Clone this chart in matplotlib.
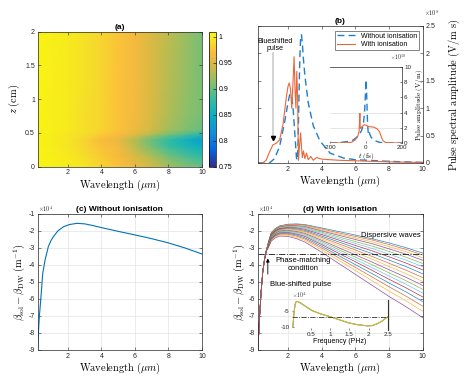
import numpy as np
import matplotlib
matplotlib.use("Agg")
import matplotlib.pyplot as plt
from matplotlib.colors import LinearSegmentedColormap
from matplotlib.ticker import FuncFormatter

plt.rcParams['font.family'] = ['Liberation Sans', 'DejaVu Sans']
plt.rcParams['mathtext.fontset'] = 'cm'
plt.rcParams['axes.unicode_minus'] = False

# ---- (a) normalised map: wavelength x propagation distance ----
lam_a = [0.2, 2, 3, 4, 5, 6, 7, 8, 9, 10]
z_a = [0, 0.15, 0.3, 0.4, 0.48, 0.55, 0.8, 1.2, 2.0]
map_a = [
    [1.005, 1.0, 0.995, 0.985, 0.975, 0.962, 0.945, 0.925, 0.91, 0.9],
    [1.005, 0.998, 0.99, 0.98, 0.968, 0.95, 0.93, 0.905, 0.89, 0.875],
    [1.005, 0.995, 0.985, 0.975, 0.965, 0.935, 0.905, 0.88, 0.865, 0.85],
    [1.005, 0.995, 0.985, 0.97, 0.96, 0.93, 0.9, 0.875, 0.855, 0.83],
    [1.005, 0.995, 0.99, 0.98, 0.97, 0.955, 0.93, 0.905, 0.89, 0.87],
    [1.005, 0.998, 0.99, 0.985, 0.975, 0.962, 0.945, 0.925, 0.91, 0.9],
    [1.005, 0.998, 0.99, 0.985, 0.975, 0.965, 0.948, 0.93, 0.915, 0.905],
    [1.005, 0.998, 0.992, 0.985, 0.975, 0.965, 0.95, 0.932, 0.918, 0.905],
    [1.005, 0.998, 0.992, 0.985, 0.976, 0.966, 0.95, 0.935, 0.92, 0.905],
]
cbar_ticks = [0.75, 0.8, 0.85, 0.9, 0.95, 1.0]

# ---- (b) spectra (x1e8 V/m s) ----
lam_b_blue = [0.2, 0.9, 1.2, 1.5, 1.8, 2.0, 2.1, 2.2, 2.3, 2.4, 2.5, 2.55, 2.6,
              2.65, 2.7, 2.75, 2.8, 2.85, 2.9, 3.0, 3.2, 3.5, 3.9, 4.5, 5.3,
              6, 8, 10]
spec_blue = [0, 0, 0.08, 0.3, 0.75, 1.1, 1.25, 1.25, 1.0, 0.55, 0.1, 0.05, 0.4,
             1.2, 1.9, 2.3, 2.34, 2.2, 1.95, 1.6, 1.1, 0.68, 0.4, 0.18, 0.09,
             0.06, 0.03, 0.01]
lam_b_orange = [0.2, 0.5, 0.7, 0.9, 1.1, 1.3, 1.5, 1.7, 1.9, 2.0, 2.07, 2.15,
                2.22, 2.3, 2.36, 2.42, 2.47, 2.52, 2.57, 2.62, 2.68, 2.75, 2.8,
                2.85, 2.92, 3.0, 3.1, 3.2, 3.35, 3.5, 3.7, 4.0, 5, 6, 8, 10]
spec_orange = [0, 0, 0.05, 0.2, 0.33, 0.36, 0.42, 0.7, 1.2, 1.4, 1.46, 1.35,
               1.0, 1.5, 1.94, 1.3, 1.0, 1.67, 1.2, 0.05, 0.3, 0.55, 0.3,
               0.1, 0.22, 0.08, 0.18, 0.06, 0.12, 0.05, 0.1, 0.07, 0.05, 0.04,
               0.02, 0.01]

# inset (b): pulse amplitude (x1e10 V/m) vs time
t_blue = [-200, -150, -100, -70, -45, -25, -15, -8, -3, 0, 3, 6, 9, 13, 18, 22,
          30, 50, 75, 100, 200]
amp_blue = [0, 0.05, 0.2, 0.4, 0.9, 1.6, 2.4, 4.0, 6.5, 8.3, 7.0, 4.5, 2.5, 1.2,
            1.5, 1.1, 0.7, 0.3, 0.08, 0.02, 0]
t_orange = [-200, -150, -100, -80, -60, -45, -38, -34, -32, -30, -20, -10, 0, 10,
            20, 40, 60, 75, 85, 95, 110, 150, 200]
amp_orange = [0, 0.02, 0.05, 0.1, 0.4, 0.9, 1.6, 3.9, 2.0, 1.9, 2.2, 2.4, 2.35,
              2.2, 2.15, 2.1, 1.9, 1.5, 0.8, 0.3, 0.05, 0.02, 0]

# ---- (c) phase mismatch without ionisation (x1e4 1/m) ----
lam_c = [0.2, 0.24, 0.3, 0.38, 0.5, 0.64, 0.84, 1.0, 1.14, 1.4, 1.74, 2.1, 2.54,
         3.0, 3.5, 4, 5, 6, 7, 8, 9, 10]
dbeta_c = [-9.0, -8.0, -7.0, -6.06, -4.5, -3.7, -2.9, -2.55, -2.33, -2.0, -1.75,
           -1.62, -1.55, -1.58, -1.68, -1.8, -2.02, -2.23, -2.45, -2.7, -3.0,
           -3.35]

# ---- (d) with ionisation: common short-wavelength rise + one row per z ----
lam_d_short = [0.2, 0.3, 0.4, 0.5, 0.6, 0.7]
dbeta_d_short = [-9.3, -7.2, -5.6, -4.4, -3.7, -3.2]
lam_d_long = [0.85, 1.0, 1.25, 1.5, 2.0, 2.5, 3, 4, 5, 6, 7, 8, 9, 10]
dbeta_d_long = [
    [-2.60, -2.10, -1.85, -1.70, -1.60, -1.58, -1.62, -1.82, -2.03, -2.24, -2.46, -2.70, -2.98, -3.30],
    [-2.61, -2.12, -1.87, -1.72, -1.62, -1.61, -1.66, -1.88, -2.11, -2.32, -2.53, -2.80, -3.08, -3.41],
    [-2.62, -2.14, -1.89, -1.74, -1.65, -1.65, -1.70, -1.95, -2.18, -2.41, -2.64, -2.92, -3.22, -3.57],
    [-2.64, -2.16, -1.91, -1.77, -1.68, -1.69, -1.74, -2.00, -2.25, -2.50, -2.75, -3.05, -3.36, -3.72],
    [-2.66, -2.18, -1.94, -1.80, -1.72, -1.74, -1.79, -2.07, -2.35, -2.62, -2.89, -3.20, -3.54, -3.91],
    [-2.67, -2.21, -1.97, -1.83, -1.75, -1.78, -1.84, -2.14, -2.44, -2.73, -3.03, -3.36, -3.71, -4.10],
    [-2.69, -2.23, -1.99, -1.86, -1.79, -1.82, -1.90, -2.21, -2.53, -2.85, -3.17, -3.52, -3.88, -4.29],
    [-2.71, -2.26, -2.03, -1.89, -1.83, -1.87, -1.96, -2.30, -2.64, -2.99, -3.33, -3.71, -4.09, -4.52],
    [-2.73, -2.29, -2.06, -1.93, -1.87, -1.92, -2.02, -2.38, -2.75, -3.12, -3.50, -3.90, -4.30, -4.74],
    [-2.75, -2.32, -2.09, -1.96, -1.92, -1.97, -2.08, -2.47, -2.86, -3.26, -3.66, -4.09, -4.51, -4.97],
    [-2.78, -2.35, -2.13, -2.00, -1.96, -2.03, -2.14, -2.55, -2.98, -3.40, -3.83, -4.28, -4.72, -5.20],
    [-2.80, -2.38, -2.16, -2.04, -2.00, -2.08, -2.20, -2.63, -3.09, -3.54, -3.99, -4.46, -4.92, -5.43],
    [-2.82, -2.41, -2.19, -2.07, -2.05, -2.13, -2.26, -2.72, -3.20, -3.68, -4.16, -4.65, -5.13, -5.66],
    [-2.84, -2.44, -2.22, -2.11, -2.09, -2.18, -2.32, -2.80, -3.31, -3.81, -4.32, -4.84, -5.34, -5.88],
    [-2.86, -2.48, -2.26, -2.15, -2.14, -2.24, -2.40, -2.90, -3.44, -3.98, -4.51, -5.06, -5.58, -6.15],
    [-2.89, -2.51, -2.30, -2.19, -2.19, -2.30, -2.47, -3.00, -3.57, -4.14, -4.71, -5.28, -5.83, -6.42],
    [-2.92, -2.55, -2.35, -2.24, -2.25, -2.37, -2.55, -3.11, -3.72, -4.32, -4.93, -5.54, -6.10, -6.72],
    [-2.95, -2.60, -2.40, -2.30, -2.32, -2.45, -2.65, -3.25, -3.90, -4.55, -5.20, -5.85, -6.45, -7.10],
]
phase_match = -3.35

# inset (d): mismatch vs frequency
freq_d = [0.03, 0.06, 0.09, 0.12, 0.16, 0.22, 0.3, 0.52, 0.75, 1.0, 1.25, 1.47,
          1.7, 1.98, 2.1, 2.23, 2.35, 2.5]
dbeta_freq = [-10.0, -5.5, -2.8, -1.95, -2.0, -2.4, -3.0, -4.8, -5.9, -6.8, -7.8,
              -8.7, -9.3, -9.7, -9.6, -9.0, -8.2, -6.8]
inset_match = -7.0

matlab_colors = ['#0072BD', '#D95319', '#EDB120', '#7E2F8E', '#77AC30',
                 '#4DBEEE', '#A2142F']

parula = LinearSegmentedColormap.from_list('parula', [
    (0.00, (0.21, 0.17, 0.53)), (0.12, (0.02, 0.39, 0.88)),
    (0.25, (0.07, 0.56, 0.84)), (0.37, (0.03, 0.68, 0.77)),
    (0.50, (0.21, 0.74, 0.63)), (0.62, (0.53, 0.75, 0.42)),
    (0.75, (0.82, 0.73, 0.27)), (0.85, (0.99, 0.73, 0.24)),
    (0.93, (0.96, 0.88, 0.16)), (1.00, (0.98, 0.98, 0.05))])

TICK = 5
LAB = 7.5
serif_wl = r'$\mathrm{Wavelength}\ (\mu m)$'
fmt = FuncFormatter(lambda v, _: f'{v:g}')


def style(ax, grid=False):
    ax.tick_params(direction='in', length=2, width=0.4, labelsize=TICK,
                   colors='#262626', pad=2, top=True, right=True)
    for s in ax.spines.values():
        s.set_linewidth(0.5)
        s.set_color('#262626')
    if grid:
        ax.grid(True, color='#e3e3e3', lw=0.5)
        ax.set_axisbelow(True)


fig = plt.figure(figsize=(4.69, 3.89), dpi=100)

# (a)
ax_a = fig.add_axes([0.0804, 0.5715, 0.350, 0.347])
mesh = ax_a.pcolormesh(lam_a, z_a, np.array(map_a), shading='gouraud',
                       cmap=parula, vmin=0.75, vmax=1.01)
ax_a.set_xlim(0.2, 10)
ax_a.set_ylim(0, 2)
ax_a.set_xticks([2, 4, 6, 8, 10])
ax_a.set_yticks([0, 0.5, 1, 1.5, 2])
ax_a.xaxis.set_major_formatter(fmt)
ax_a.yaxis.set_major_formatter(fmt)
style(ax_a)
ax_a.set_xlabel(serif_wl, fontsize=LAB, labelpad=1)
ax_a.set_ylabel(r'$z\ (\mathrm{cm})$', fontsize=LAB, labelpad=2)
ax_a.set_title('(a)', fontsize=6, fontweight='bold', pad=2)
cax = fig.add_axes([0.4456, 0.5715, 0.0143, 0.347])
cb = fig.colorbar(mesh, cax=cax, ticks=cbar_ticks)
cb.ax.yaxis.set_major_formatter(fmt)
cb.ax.tick_params(direction='in', length=2, width=0.4, labelsize=TICK, pad=2)
cb.outline.set_linewidth(0.5)

# (b)
ax_b = fig.add_axes([0.5495, 0.581, 0.3518, 0.3522])
ax_b.plot(lam_b_blue, spec_blue, color='#1f7fcf', lw=1.0, ls=(0, (5, 3)),
          label='Without ionisation')
ax_b.plot(lam_b_orange, spec_orange, color='#e8683a', lw=0.8,
          label='With ionisation')
ax_b.set_xlim(0.2, 10)
ax_b.set_ylim(0, 2.5)
ax_b.set_xticks([2, 4, 6, 8, 10])
ax_b.set_yticks([0, 0.5, 1, 1.5, 2, 2.5])
ax_b.xaxis.set_major_formatter(fmt)
ax_b.yaxis.set_major_formatter(fmt)
style(ax_b)
ax_b.tick_params(labelleft=False, labelright=True)
ax_b.yaxis.set_label_position('right')
ax_b.set_ylabel(r'$\mathrm{Pulse\ spectral\ amplitude\ (V/m\ s)}$',
                fontsize=LAB, labelpad=8)
ax_b.set_xlabel(serif_wl, fontsize=LAB, labelpad=1)
ax_b.set_title('(b)', fontsize=6, fontweight='bold', pad=2)
ax_b.text(1.01, 1.06, r'$\times10^{8}$', transform=ax_b.transAxes,
          fontsize=4.5, ha='left', va='bottom', color='#262626')
ax_b.plot([1.13, 1.13], [2.0, 0.5], color='#cccccc', lw=1.2)
ax_b.plot([1.13], [0.45], marker='v', color='black', ms=3)
ax_b.text(1.2, 2.15, 'Blueshifted\npulse', fontsize=5, ha='center',
          va='center', linespacing=1.1)
leg = ax_b.legend(loc='upper right', fontsize=5, frameon=True, fancybox=False,
                  handlelength=2.6, borderpad=0.3, labelspacing=0.2,
                  bbox_to_anchor=(1.0, 0.99))
leg.get_frame().set_linewidth(0.5)
leg.get_frame().set_edgecolor('#262626')

ax_bi = fig.add_axes([0.7036, 0.6324, 0.1535, 0.1954])
ax_bi.set_facecolor('white')
for y in [2, 4]:
    ax_bi.axhline(y, color='#dddddd', lw=0.5, zorder=0)
ax_bi.plot(t_blue, amp_blue, color='#1f7fcf', lw=1.0, ls=(0, (5, 3)))
ax_bi.plot(t_orange, amp_orange, color='#e8683a', lw=0.8)
ax_bi.set_xlim(-200, 200)
ax_bi.set_ylim(0, 10)
ax_bi.set_xticks([-200, 0, 200])
ax_bi.set_yticks([0, 2, 4, 6, 8, 10])
ax_bi.tick_params(direction='in', length=1.5, width=0.4, labelsize=4.5,
                  pad=1.5, left=False, labelleft=False, right=True,
                  labelright=True, colors='#262626')
ax_bi.spines['left'].set_visible(False)
ax_bi.spines['bottom'].set_visible(False)
for s in ['top', 'right']:
    ax_bi.spines[s].set_linewidth(0.5)
    ax_bi.spines[s].set_color('#262626')
ax_bi.yaxis.set_label_position('right')
ax_bi.set_ylabel(r'$\mathrm{Pulse\ amplitude\ (V/m)}$', fontsize=5, labelpad=2)
ax_bi.set_xlabel(r'$t\ \mathrm{(fs)}$', fontsize=5, labelpad=0.5)
ax_bi.text(0.84, 1.06, r'$\times10^{10}$', transform=ax_bi.transAxes,
           fontsize=4, ha='left', va='bottom', color='#262626')

# (c)
ax_c = fig.add_axes([0.0804, 0.1003, 0.350, 0.3496])
ax_c.plot(lam_c, dbeta_c, color='#0072BD', lw=0.8)
ax_c.set_xlim(0.2, 10)
ax_c.set_ylim(-9, -1)
ax_c.set_xticks([2, 4, 6, 8, 10])
ax_c.set_yticks(range(-9, 0))
style(ax_c, grid=True)
ax_c.set_xlabel(serif_wl, fontsize=LAB, labelpad=1)
ax_c.set_ylabel(r'$\beta_{\rm sol}-\beta_{\rm DW}\ (\mathrm{m}^{-1})$',
                fontsize=LAB, labelpad=1)
ax_c.set_title('(c) Without ionisation', fontsize=6, fontweight='bold', pad=2)
ax_c.text(0.0, 1.0, r'$\times10^{4}$', transform=ax_c.transAxes,
          fontsize=4.5, ha='left', va='bottom', color='#262626')

# (d)
ax_d = fig.add_axes([0.5495, 0.1003, 0.3518, 0.3496])
lam_d = lam_d_short + lam_d_long
for i, row in enumerate(dbeta_d_long):
    ax_d.plot(lam_d, dbeta_d_short + row,
              color=matlab_colors[i % len(matlab_colors)], lw=0.5, alpha=0.85)
ax_d.axhline(phase_match, color='#333333', lw=0.7, ls='-.')
ax_d.set_xlim(0.2, 10)
ax_d.set_ylim(-9, -1)
ax_d.set_xticks([2, 4, 6, 8, 10])
ax_d.set_yticks(range(-9, 0))
style(ax_d, grid=True)
ax_d.set_xlabel(serif_wl, fontsize=LAB, labelpad=1)
ax_d.set_ylabel(r'$\beta_{\rm sol}-\beta_{\rm DW}\ (\mathrm{m}^{-1})$',
                fontsize=LAB, labelpad=1)
ax_d.set_title('(d) With ionisation', fontsize=6, fontweight='bold', pad=2)
ax_d.text(0.0, 1.0, r'$\times10^{4}$', transform=ax_d.transAxes,
          fontsize=4.5, ha='left', va='bottom', color='#262626')
ax_d.annotate('', xy=(0.8, -3.45), xytext=(0.8, -4.7),
              arrowprops=dict(arrowstyle='-|>', color='black', lw=0.6,
                              mutation_scale=5))
ax_d.text(2.9, -4.0, 'Phase-matching\ncondition', fontsize=5.5, ha='center',
          va='center', linespacing=1.2)
ax_d.text(0.9, -5.15, 'Blue-shifted pulse', fontsize=5.5, ha='left',
          va='center')
ax_d.text(8.1, -2.25, 'Dispersive waves', fontsize=5.5, ha='center',
          va='center')

ax_di = fig.add_axes([0.622, 0.1517, 0.2047, 0.0771])
ax_di.set_facecolor('white')
for c in ['#77AC30', '#4DBEEE', '#EDB120']:
    ax_di.plot(freq_d, dbeta_freq, color=c, lw=0.7)
ax_di.axhline(inset_match, color='#333333', lw=0.6, ls='-.')
ax_di.set_xlim(0, 2.5)
ax_di.set_ylim(-11, -1.5)
ax_di.set_xticks([0.5, 1, 1.5, 2, 2.5])
ax_di.set_yticks([-10, -5])
ax_di.xaxis.set_major_formatter(fmt)
ax_di.tick_params(direction='in', length=1.5, width=0.4, labelsize=4.5,
                  pad=1.5, colors='#262626')
for s in ['top', 'bottom', 'left']:
    ax_di.spines[s].set_visible(False)
ax_di.spines['right'].set_linewidth(0.8)
ax_di.spines['right'].set_color('#333333')
ax_di.set_xlabel('Frequency (PHz)', fontsize=5, labelpad=1)
ax_di.text(0.0, 1.0, r'$\times10^{4}$', transform=ax_di.transAxes,
           fontsize=4, ha='left', va='bottom', color='#262626')

fig.savefig('out.png', dpi=100)
